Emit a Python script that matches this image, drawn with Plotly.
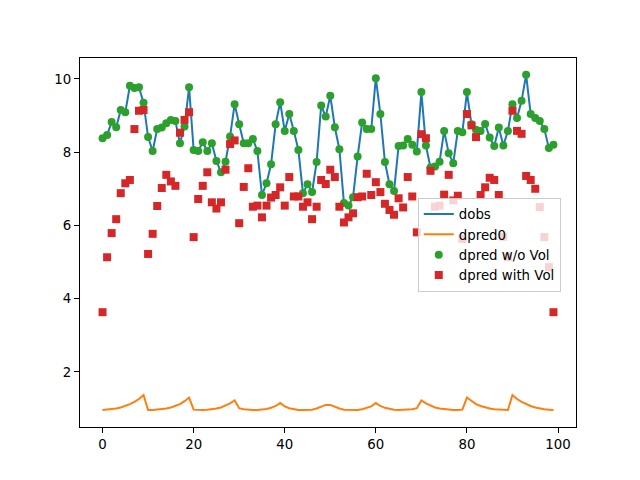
import plotly.graph_objects as go

x_idx = list(range(100))

dobs = [8.38, 8.47, 8.82, 8.68, 9.15, 9.09, 9.81, 9.75, 9.77, 9.35,
        8.41, 8.03, 8.63, 8.67, 8.79, 8.88, 8.85, 8.24, 8.70, 9.77,
        8.06, 8.03, 8.27, 8.03, 8.24, 7.76, 7.45, 7.74, 8.43, 9.31,
        8.76, 8.24, 8.24, 8.36, 8.03, 6.83, 7.15, 7.67, 8.76, 9.36,
        8.58, 9.04, 8.58, 8.06, 6.88, 7.12, 6.91, 7.73, 9.27, 8.97,
        9.54, 8.68, 8.08, 6.61, 6.54, 6.77, 7.88, 8.81, 8.63, 8.63,
        10.02, 9.04, 7.73, 7.12, 6.94, 8.17, 8.18, 8.36, 8.20, 8.02,
        9.64, 8.18, 7.58, 7.61, 7.74, 8.58, 7.97, 7.70, 8.58, 8.54,
        9.64, 8.76, 8.61, 8.58, 8.77, 8.40, 8.17, 8.67, 8.18, 8.58,
        9.31, 8.93, 9.40, 10.11, 9.04, 8.93, 8.85, 8.63, 8.11, 8.20]

dpred0 = [0.96, 0.97, 0.98, 1.00, 1.03, 1.07, 1.12, 1.18, 1.26, 1.37,
          0.96, 0.96, 0.97, 0.98, 1.00, 1.03, 1.07, 1.12, 1.20, 1.30,
          0.97, 0.96, 0.96, 0.97, 0.98, 1.00, 1.03, 1.08, 1.14, 1.22,
          1.01, 0.98, 0.96, 0.96, 0.96, 0.97, 0.99, 1.02, 1.07, 1.15,
          1.06, 1.01, 0.98, 0.96, 0.96, 0.96, 0.97, 1.00, 1.04, 1.10,
          1.10, 1.04, 1.00, 0.97, 0.96, 0.96, 0.96, 0.98, 1.01, 1.06,
          1.15, 1.07, 1.02, 0.99, 0.97, 0.96, 0.96, 0.96, 0.98, 1.01,
          1.22, 1.14, 1.08, 1.03, 1.00, 0.98, 0.97, 0.96, 0.96, 0.97,
          1.30, 1.20, 1.12, 1.07, 1.03, 1.00, 0.98, 0.97, 0.96, 0.96,
          1.37, 1.26, 1.18, 1.12, 1.07, 1.03, 1.00, 0.98, 0.97, 0.96]

dpred_no_vol = list(dobs)

dpred_vol = [3.63, 5.13, 5.79, 6.17, 6.88, 7.15, 7.24, 8.63, 9.13, 9.15,
             5.22, 5.77, 6.53, 7.02, 7.38, 7.20, 7.08, 8.53, 8.88, 9.09,
             5.68, 6.72, 7.08, 7.45, 6.63, 6.46, 6.63, 7.52, 8.22, 8.32,
             6.06, 7.05, 7.56, 6.51, 6.54, 6.22, 6.54, 6.76, 6.83, 7.04,
             6.54, 7.32, 6.79, 6.79, 6.51, 6.63, 6.17, 6.51, 7.24, 7.13,
             7.52, 7.32, 6.51, 6.08, 6.22, 6.33, 6.77, 6.79, 7.41, 6.83,
             7.18, 6.91, 6.59, 6.42, 6.29, 6.74, 6.49, 7.32, 6.79, 5.81,
             8.49, 8.38, 7.49, 6.51, 6.54, 6.84, 7.38, 6.68, 6.81, 5.63,
             9.04, 8.73, 8.41, 6.83, 7.04, 7.30, 7.24, 6.83, 5.69, 5.13,
             9.13, 8.58, 8.50, 7.35, 7.24, 7.00, 6.50, 5.68, 4.86, 3.63]

x_ticks = [0, 20, 40, 60, 80, 100]
y_ticks = [2, 4, 6, 8, 10]

fig = go.Figure()
fig.add_trace(go.Scatter(x=x_idx, y=dobs, mode="lines", name="dobs",
                         line=dict(color="#1f77b4", width=2)))
fig.add_trace(go.Scatter(x=x_idx, y=dpred0, mode="lines", name="dpred0",
                         line=dict(color="#ff7f0e", width=2)))
fig.add_trace(go.Scatter(x=x_idx, y=dpred_no_vol, mode="markers", name="dpred w/o Vol",
                         marker=dict(color="#2ca02c", size=8, symbol="circle")))
fig.add_trace(go.Scatter(x=x_idx, y=dpred_vol, mode="markers", name="dpred with Vol",
                         marker=dict(color="#d62728", size=8, symbol="square")))

axis_common = dict(showgrid=False, zeroline=False, showline=True, mirror=True,
                   linecolor="black", linewidth=1, ticks="outside", ticklen=5,
                   tickwidth=1, tickcolor="black",
                   tickfont=dict(family="DejaVu Sans", size=13.33, color="black"))

fig.update_xaxes(range=[-4.95, 103.95], tickvals=x_ticks,
                 ticktext=[str(v) for v in x_ticks], **axis_common)
fig.update_yaxes(range=[0.496, 10.57], tickvals=y_ticks,
                 ticktext=[str(v) for v in y_ticks], **axis_common)

fig.update_layout(
    width=640, height=480,
    margin=dict(l=72, r=72, t=50, b=61),
    paper_bgcolor="white", plot_bgcolor="white",
    font=dict(family="DejaVu Sans", size=13.33, color="black"),
    showlegend=True,
    legend=dict(x=0.681, y=0.621, xanchor="left", yanchor="top",
                bgcolor="rgba(255,255,255,0.8)", bordercolor="#cccccc",
                borderwidth=1, tracegroupgap=0,
                font=dict(family="DejaVu Sans", size=13.33, color="black")),
)

fig.write_html("out.html")
